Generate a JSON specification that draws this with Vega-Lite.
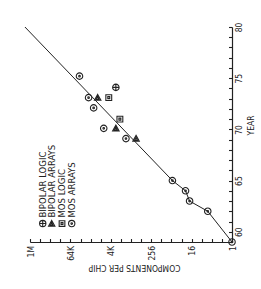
{
  "$schema": "https://vega.github.io/schema/vega-lite/v6.json",
  "width": 202,
  "height": 215,
  "autosize": {"type": "none"},
  "padding": {"left": 30, "top": 27, "right": 29, "bottom": 47},
  "background": "white",
  "config": {
    "view": {"stroke": null},
    "axis": {
      "grid": false,
      "domainColor": "#222",
      "tickColor": "#222",
      "labelColor": "#222",
      "titleColor": "#222",
      "labelFont": "Liberation Sans Narrow, DejaVu Sans Condensed, Liberation Sans",
      "titleFont": "Liberation Sans Narrow, DejaVu Sans Condensed, Liberation Sans",
      "titleFontWeight": "normal",
      "domainWidth": 1.2,
      "tickWidth": 1.1
    }
  },
  "datasets": {
    "trend": [
      {"year": 59, "comp": 1},
      {"year": 62, "comp": 5.278},
      {"year": 63, "comp": 18.38},
      {"year": 64, "comp": 24.25},
      {"year": 65, "comp": 59.72},
      {"year": 80, "comp": 1482910}
    ],
    "chips": [
      {"year": 59, "comp": 1, "kind": "MOS ARRAYS"},
      {"year": 62, "comp": 5.278, "kind": "MOS ARRAYS"},
      {"year": 63, "comp": 18.38, "kind": "MOS ARRAYS"},
      {"year": 64, "comp": 24.25, "kind": "MOS ARRAYS"},
      {"year": 65, "comp": 59.72, "kind": "MOS ARRAYS"},
      {"year": 69.1, "comp": 1448, "kind": "MOS ARRAYS"},
      {"year": 69.1, "comp": 724, "kind": "BIPOLAR ARRAYS"},
      {"year": 70.1, "comp": 6654, "kind": "MOS ARRAYS"},
      {"year": 70.1, "comp": 2896, "kind": "BIPOLAR ARRAYS"},
      {"year": 71.0, "comp": 2195, "kind": "MOS LOGIC"},
      {"year": 72.1, "comp": 13308, "kind": "MOS ARRAYS"},
      {"year": 73.1, "comp": 18820, "kind": "MOS ARRAYS"},
      {"year": 73.1, "comp": 10086, "kind": "BIPOLAR ARRAYS"},
      {"year": 73.1, "comp": 4705, "kind": "MOS LOGIC"},
      {"year": 74.1, "comp": 2896, "kind": "BIPOLAR LOGIC"},
      {"year": 75.2, "comp": 35120, "kind": "MOS ARRAYS"}
    ],
    "key": [
      {"kind": "BIPOLAR LOGIC", "comp": 437860, "year": 60.8},
      {"kind": "BIPOLAR ARRAYS", "comp": 236260, "year": 60.8},
      {"kind": "MOS LOGIC", "comp": 116500, "year": 60.8},
      {"kind": "MOS ARRAYS", "comp": 59890, "year": 60.8}
    ]
  },
  "encoding": {
    "x": {
      "field": "comp",
      "type": "quantitative",
      "scale": {"type": "log", "base": 2, "domain": [1, 1048576], "reverse": true, "nice": false},
      "axis": {
        "orient": "bottom",
        "values": [1, 2, 4, 8, 16, 32, 64, 128, 256, 512, 1024, 2048, 4096, 8192, 16384, 32768, 65536, 131072, 262144, 524288, 1048576],
        "labelExpr": "datum.value == 1 ? '1' : datum.value == 16 ? '16' : datum.value == 256 ? '256' : datum.value == 4096 ? '4K' : datum.value == 65536 ? '64K' : datum.value == 1048576 ? '1M' : ''",
        "tickSize": -3.5,
        "labelAngle": 270,
        "labelAlign": "right",
        "labelBaseline": "middle",
        "labelPadding": 7,
        "labelFontSize": 8.5,
        "labelOverlap": false,
        "title": "COMPONENTS PER CHIP",
        "titleAngle": 180,
        "titleAlign": "center",
        "titleBaseline": "middle",
        "titleX": 104,
        "titleY": 25,
        "titleFontSize": 8.5
      }
    },
    "y": {
      "field": "year",
      "type": "quantitative",
      "scale": {"domain": [59, 80], "nice": false, "zero": false},
      "axis": {
        "orient": "right",
        "values": [59, 60, 61, 62, 63, 64, 65, 66, 67, 68, 69, 70, 71, 72, 73, 74, 75, 76, 77, 78, 79, 80],
        "labelExpr": "datum.value % 5 == 0 ? datum.label : ''",
        "tickSize": -3.5,
        "labelAngle": 270,
        "labelAlign": "center",
        "labelBaseline": "top",
        "labelPadding": 6,
        "labelFontSize": 8.5,
        "labelOverlap": false,
        "title": "YEAR",
        "titleAngle": 270,
        "titleAlign": "center",
        "titleBaseline": "middle",
        "titleX": 18,
        "titleY": 98,
        "titleFontSize": 8.5
      }
    }
  },
  "layer": [
    {
      "data": {"name": "trend"},
      "mark": {"type": "line", "color": "#222", "strokeWidth": 1, "clip": false}
    },
    {
      "data": {"name": "chips"},
      "mark": {"type": "point", "filled": false, "color": "#222", "strokeWidth": 1.1, "size": 42, "opacity": 1},
      "encoding": {
        "shape": {
          "field": "kind",
          "type": "nominal",
          "scale": {
            "domain": ["BIPOLAR LOGIC", "BIPOLAR ARRAYS", "MOS LOGIC", "MOS ARRAYS"],
            "range": [
              "M-1,0A1,1,0,1,1,1,0A1,1,0,1,1,-1,0Z M-1,0L1,0 M0,-1L0,1",
              "M0,-1L1,0.8L-1,0.8Z M0,-0.3L0.4,0.5L-0.4,0.5Z",
              "M-0.9,-0.9L0.9,-0.9L0.9,0.9L-0.9,0.9Z M-0.3,-0.3L0.3,-0.3L0.3,0.3L-0.3,0.3Z",
              "M-1,0A1,1,0,1,1,1,0A1,1,0,1,1,-1,0Z M-0.25,0A0.25,0.25,0,1,1,0.25,0A0.25,0.25,0,1,1,-0.25,0Z"
            ]
          },
          "legend": null
        }
      }
    },
    {
      "data": {"name": "key"},
      "mark": {"type": "point", "filled": false, "color": "#222", "strokeWidth": 1.1, "size": 40, "opacity": 1},
      "encoding": {
        "shape": {"field": "kind", "type": "nominal", "legend": null}
      }
    },
    {
      "data": {"name": "key"},
      "mark": {
        "type": "text",
        "angle": 270,
        "align": "left",
        "baseline": "middle",
        "dx": 6,
        "font": "Liberation Sans Narrow, DejaVu Sans Condensed, Liberation Sans",
        "fontSize": 9.5,
        "color": "#222"
      },
      "encoding": {
        "text": {"field": "kind", "type": "nominal"}
      }
    }
  ]
}
